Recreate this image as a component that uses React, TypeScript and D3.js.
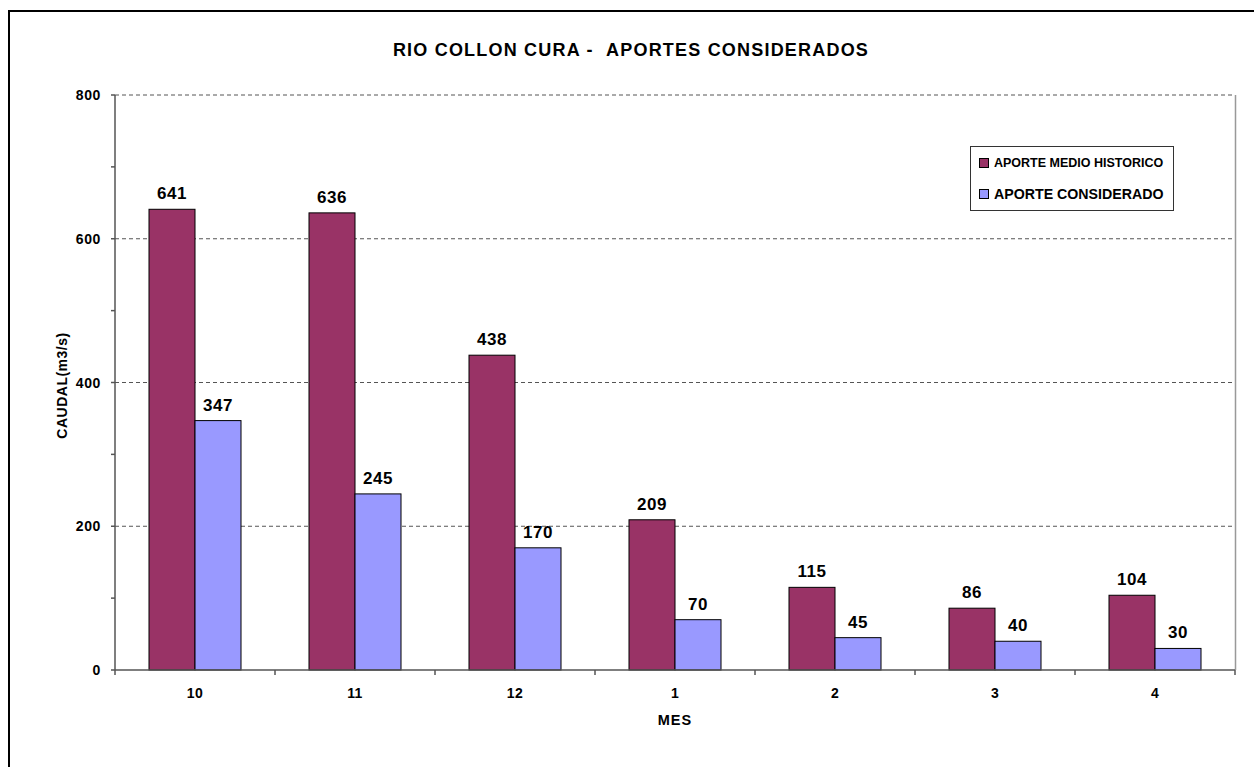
import React from "react";
import * as d3 from "d3";

const categories = ["10", "11", "12", "1", "2", "3", "4"];
const historico = [641, 636, 438, 209, 115, 86, 104];
const considerado = [347, 245, 170, 70, 45, 40, 30];
const seriesNames = ["APORTE MEDIO HISTORICO", "APORTE CONSIDERADO"];
const yTicks = [0, 200, 400, 600, 800];
const yMinor = [100, 300, 500, 700];

const W = 1254;
const H = 767;
const left = 115;
const right = 1235;
const top = 95;
const bottom = 670;
const colors = ["#993366", "#9999FF"];
const font = "Arial, 'Liberation Sans', sans-serif";

export default function App() {
  const x = d3.scaleBand<string>().domain(categories).range([left, right]).paddingInner(0).paddingOuter(0);
  const y = d3.scaleLinear().domain([0, 800]).range([bottom, top]);
  const bw = x.bandwidth();
  const barW = bw * 0.2875;
  const series = [historico, considerado];

  return (
    <svg width={W} height={H} style={{ position: "absolute", left: 0, top: 0, background: "#fff" }}>
      <rect x={0} y={0} width={W} height={H} fill="#fff" />
      <rect x={9} y={11} width={1300} height={900} fill="none" stroke="#000" strokeWidth={2} />
      <text x={631} y={56} textAnchor="middle" fontFamily={font} fontWeight="bold" fontSize={18} letterSpacing={1.2}>
        RIO COLLON CURA -{"\u00A0\u00A0"}APORTES CONSIDERADOS
      </text>
      {/* gridlines */}
      {yTicks.filter((t) => t > 0).map((t) => (
        <line key={"g" + t} x1={left} x2={right} y1={y(t)} y2={y(t)} stroke="#555" strokeWidth={1} strokeDasharray="4,3" />
      ))}
      {/* plot right border */}
      <line x1={right + 0.5} x2={right + 0.5} y1={top} y2={bottom} stroke="#999" strokeWidth={1.5} />
      {/* bars */}
      {series.map((s, si) =>
        s.map((v, i) => {
          const cx = (x(categories[i]) as number) + bw / 2;
          const x0 = si === 0 ? cx - barW : cx;
          return (
            <g key={si + "-" + i}>
              <rect x={x0} y={y(v)} width={barW} height={bottom - y(v)} fill={colors[si]} stroke="#000" strokeWidth={1} />
              <text x={x0 + barW / 2} y={y(v) - 10} textAnchor="middle" fontFamily={font} fontWeight="bold" fontSize={17} letterSpacing={0.6}>
                {v}
              </text>
            </g>
          );
        })
      )}
      {/* y axis */}
      <line x1={left} x2={left} y1={top} y2={bottom} stroke="#555" strokeWidth={1.5} />
      {yTicks.map((t) => (
        <g key={"t" + t}>
          <line x1={left - 4} x2={left} y1={y(t)} y2={y(t)} stroke="#555" strokeWidth={1.5} />
          <text x={left - 14} y={y(t) + 5} textAnchor="end" fontFamily={font} fontWeight="bold" fontSize={14} letterSpacing={0.6}>
            {t}
          </text>
        </g>
      ))}
      {yMinor.map((t) => (
        <line key={"m" + t} x1={left - 4} x2={left} y1={y(t)} y2={y(t)} stroke="#555" strokeWidth={1.5} />
      ))}
      {/* x axis */}
      <line x1={left} x2={right} y1={bottom} y2={bottom} stroke="#555" strokeWidth={1.5} />
      {categories.concat(["end"]).map((c, i) => (
        <line key={"xt" + i} x1={left + i * bw} x2={left + i * bw} y1={bottom} y2={bottom + 5} stroke="#555" strokeWidth={1.5} />
      ))}
      {categories.map((c) => (
        <text key={"xl" + c} x={(x(c) as number) + bw / 2} y={698} textAnchor="middle" fontFamily={font} fontWeight="bold" fontSize={14} letterSpacing={0.4}>
          {c}
        </text>
      ))}
      <text x={(left + right) / 2} y={725} textAnchor="middle" fontFamily={font} fontWeight="bold" fontSize={14.5} letterSpacing={1}>
        MES
      </text>
      <text transform={`translate(67, ${(top + bottom) / 2 + 3}) rotate(-90)`} textAnchor="middle" fontFamily={font} fontWeight="bold" fontSize={14} letterSpacing={0.5}>
        CAUDAL(m3/s)
      </text>
      {/* legend */}
      <rect x={970.5} y={146.5} width={203} height={64} fill="#fff" stroke="#333" strokeWidth={1} />
      <rect x={979.5} y={158.5} width={9} height={9} fill={colors[0]} stroke="#000" strokeWidth={1} />
      <text x={994} y={167} fontFamily={font} fontWeight="bold" fontSize={12.5}>
        {seriesNames[0]}
      </text>
      <rect x={979.5} y={189.5} width={9} height={9} fill={colors[1]} stroke="#000" strokeWidth={1} />
      <text x={994} y={199} fontFamily={font} fontWeight="bold" fontSize={14.2}>
        {seriesNames[1]}
      </text>
    </svg>
  );
}
